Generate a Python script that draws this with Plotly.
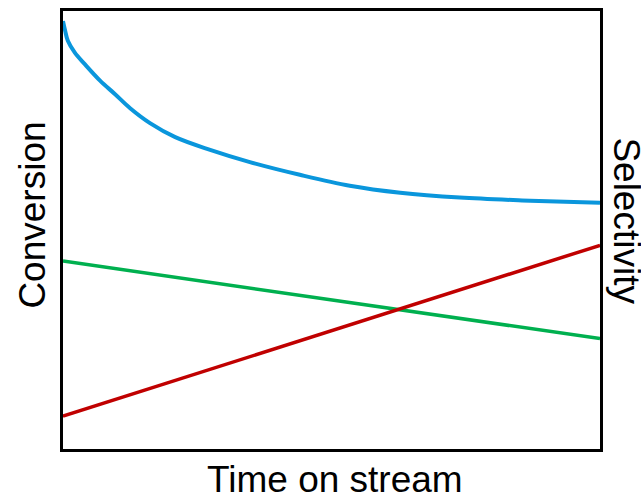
import plotly.graph_objects as go

# Conversion (blue), normalized time 0..1, normalized value 0..1
conv_t = [0.0, 0.004, 0.009, 0.022, 0.041, 0.069, 0.097, 0.125, 0.162, 0.209, 0.274, 0.348, 0.441, 0.534, 0.628, 0.739, 0.870, 1.0]
conv_v = [0.977, 0.955, 0.932, 0.905, 0.878, 0.841, 0.810, 0.778, 0.744, 0.712, 0.683, 0.655, 0.626, 0.601, 0.585, 0.574, 0.567, 0.562]

# Green line
green_t = [0.0, 1.0]
green_v = [0.429, 0.252]

# Red line
red_t = [0.0, 1.0]
red_v = [0.075, 0.465]

fig = go.Figure()
fig.add_trace(go.Scatter(x=conv_t, y=conv_v, mode="lines",
                         line=dict(color="#0A96DC", width=4, shape="spline"), showlegend=False))
fig.add_trace(go.Scatter(x=green_t, y=green_v, mode="lines",
                         line=dict(color="#00B04F", width=3.5), showlegend=False))
fig.add_trace(go.Scatter(x=red_t, y=red_v, mode="lines",
                         line=dict(color="#C00000", width=3.5), showlegend=False))

font = dict(family="Liberation Sans, Arial, sans-serif", size=37, color="black")
fig.update_layout(
    width=641, height=496,
    margin=dict(l=63, r=41, t=8, b=47),
    paper_bgcolor="white", plot_bgcolor="white",
    xaxis=dict(range=[0, 1], showgrid=False, zeroline=False, showticklabels=False, ticks="",
               showline=True, linecolor="black", linewidth=2.5, mirror=True),
    yaxis=dict(range=[0, 1], showgrid=False, zeroline=False, showticklabels=False, ticks="",
               showline=True, linecolor="black", linewidth=2.5, mirror=True),
    annotations=[
        dict(text="Conversion", xref="paper", yref="paper", x=-0.056, y=0.535,
             textangle=-90, showarrow=False, font=font, xanchor="center", yanchor="middle"),
        dict(text="Selectivity", xref="paper", yref="paper", x=1.05, y=0.52,
             textangle=90, showarrow=False, font=font, xanchor="center", yanchor="middle"),
        dict(text="Time on stream", xref="paper", yref="paper", x=0.507, y=-0.07,
             showarrow=False, font=font, xanchor="center", yanchor="middle"),
    ],
)
fig.write_html("out.html", config={"displayModeBar": False},
               post_script="document.body.style.margin='0';document.body.style.overflow='hidden';")
